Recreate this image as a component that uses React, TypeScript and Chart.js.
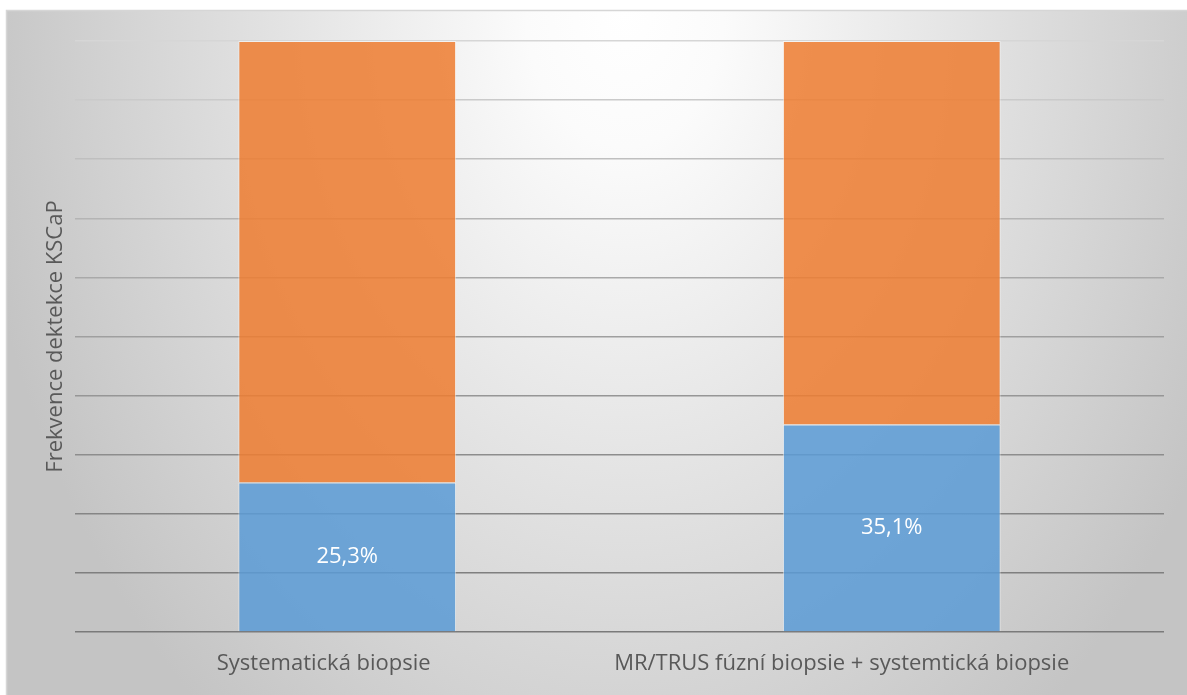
import React, { useEffect, useRef } from "react";
import { Chart, registerables } from "chart.js";

Chart.register(...registerables);

const categories = ["Systematická biopsie", "MR/TRUS fúzní biopsie + systemtická biopsie"];
const detectedValues = [25.3, 35.1];
const remainderValues = [74.7, 64.9];
const detectedLabels = ["25,3%", "35,1%"];
const yAxisTitle = "Frekvence dektekce KSCaP";
const yMin = 0;
const yMax = 100;
const yStep = 10;

const FONT = '"Open Sans", "Noto Sans", sans-serif';
const FONT_SIZE = 22;
const TEXT_GRAY = "#595959";

const backgroundPlugin = {
  id: "frameBackground",
  beforeDraw(chart: any) {
    const { ctx, width, height } = chart;
    ctx.save();
    ctx.fillStyle = "#ffffff";
    ctx.fillRect(0, 0, width, height);
    const fx = 6;
    const fy = 10;
    ctx.beginPath();
    ctx.rect(fx, fy, width - fx, height - fy);
    ctx.clip();
    const cx = 625;
    const cy = 10;
    const a = 660;
    const b = 910;
    ctx.translate(cx, cy);
    ctx.scale(1, b / a);
    const g = ctx.createRadialGradient(0, 0, 0, 0, 0, a);
    g.addColorStop(0, "#ffffff");
    g.addColorStop(0.15, "#fbfbfb");
    g.addColorStop(1, "#c4c4c4");
    ctx.fillStyle = g;
    ctx.fillRect(-3000, -3000, 6000, 6000);
    ctx.restore();
    ctx.save();
    ctx.strokeStyle = "#d6d6d6";
    ctx.lineWidth = 1.5;
    ctx.beginPath();
    ctx.moveTo(fx + 0.5, height);
    ctx.lineTo(fx + 0.5, fy + 0.5);
    ctx.lineTo(width, fy + 0.5);
    ctx.stroke();
    ctx.restore();
  },
};

const labelsPlugin = {
  id: "segmentLabels",
  afterDatasetsDraw(chart: any) {
    const { ctx } = chart;
    const meta = chart.getDatasetMeta(0);
    ctx.save();
    ctx.fillStyle = "#ffffff";
    ctx.font = `${FONT_SIZE}px ${FONT}`;
    ctx.textAlign = "center";
    ctx.textBaseline = "middle";
    meta.data.forEach((bar: any, i: number) => {
      const { x, y, base } = bar.getProps(["x", "y", "base"], true);
      ctx.fillText(detectedLabels[i], x, (y + base) / 2);
    });
    ctx.restore();
  },
  afterDraw(chart: any) {
    const { ctx, chartArea } = chart;
    const xScale = chart.scales.x;
    ctx.save();
    ctx.fillStyle = TEXT_GRAY;
    ctx.font = `${FONT_SIZE}px ${FONT}`;
    ctx.textAlign = "left";
    ctx.textBaseline = "middle";
    categories.forEach((label, i) => {
      const px = xScale.getPixelForValue(i);
      const w = ctx.measureText(label).width;
      ctx.fillText(label, px - 0.61 * w, chartArea.bottom + 32);
    });
    ctx.restore();
  },
};

function gridColor(ctx: any) {
  const v = ctx.tick ? ctx.tick.value : 0;
  const t = Math.pow((v - yMin) / (yMax - yMin), 1.3);
  const c = Math.round(122 + (214 - 122) * t);
  return `rgb(${c},${c},${c})`;
}

export default function App() {
  const canvasRef = useRef<HTMLCanvasElement | null>(null);

  useEffect(() => {
    if (!canvasRef.current) return;
    const chart = new Chart(canvasRef.current, {
      type: "bar",
      data: {
        labels: categories,
        datasets: [
          {
            label: "Detekováno",
            data: detectedValues,
            backgroundColor: "rgba(91,155,213,0.86)",
            borderColor: "rgba(255,255,255,0.55)",
            borderWidth: 1,
            barPercentage: 0.4,
            categoryPercentage: 1,
          },
          {
            label: "Nedetekováno",
            data: remainderValues,
            backgroundColor: "rgba(237,125,49,0.86)",
            borderColor: "rgba(255,255,255,0.55)",
            borderWidth: 1,
            barPercentage: 0.4,
            categoryPercentage: 1,
          },
        ],
      },
      options: {
        responsive: true,
        maintainAspectRatio: false,
        animation: false,
        layout: { padding: { top: 41, right: 23, left: 0, bottom: 0 } },
        plugins: {
          legend: { display: false },
          tooltip: { enabled: false },
        },
        scales: {
          x: {
            stacked: true,
            grid: { display: false },
            border: { display: false },
            ticks: { display: false },
            afterFit(scale: any) {
              scale.height = 63;
            },
          },
          y: {
            stacked: true,
            min: yMin,
            max: yMax,
            ticks: { display: false, stepSize: yStep },
            grid: {
              color: gridColor,
              lineWidth: 1.5,
              drawTicks: false,
            },
            border: { display: false },
            title: {
              display: true,
              text: yAxisTitle,
              color: TEXT_GRAY,
              font: { family: FONT, size: FONT_SIZE },
              padding: { top: 43, bottom: 0 },
            },
            afterFit(scale: any) {
              scale.width = 75;
            },
          },
        },
      },
      plugins: [backgroundPlugin, labelsPlugin],
    });
    return () => chart.destroy();
  }, []);

  return (
    <div style={{ position: "absolute", left: 0, top: 0, width: 1187, height: 695 }}>
      <canvas ref={canvasRef} />
    </div>
  );
}
